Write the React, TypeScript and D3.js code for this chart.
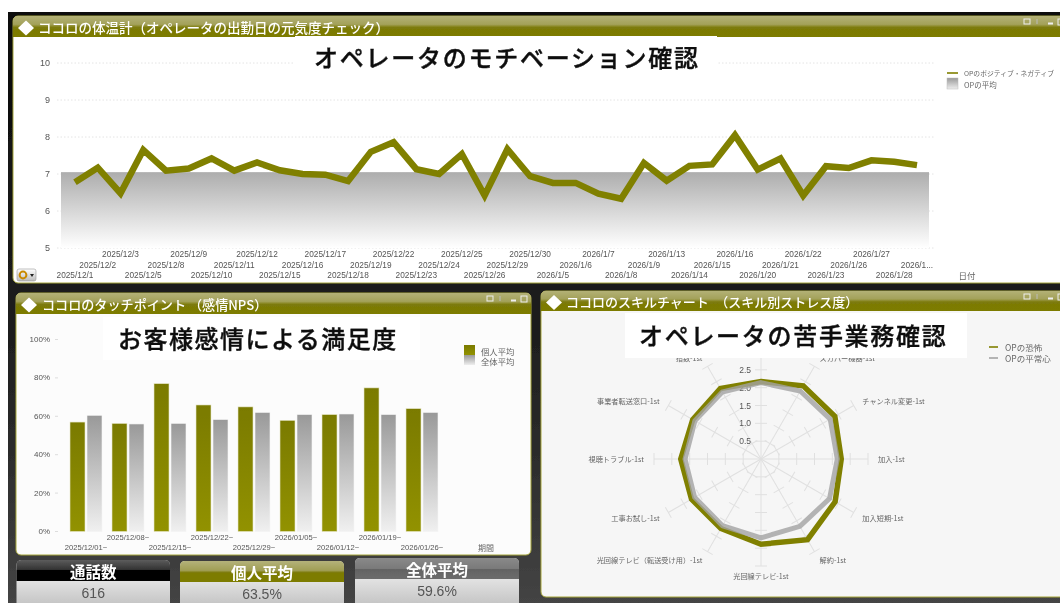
import React from "react";
import * as d3 from "d3";

const W = 1060, H = 603;
const OLIVE = "#808000";
const SANS = "'Liberation Sans','Noto Sans CJK JP',sans-serif";
const CJK = "'Noto Sans CJK JP','Liberation Sans',sans-serif";

// Top chart
const dates = ["2025/12/1","2025/12/2","2025/12/3","2025/12/5","2025/12/8","2025/12/9","2025/12/10","2025/12/11","2025/12/12","2025/12/15","2025/12/16","2025/12/17","2025/12/18","2025/12/19","2025/12/22","2025/12/23","2025/12/24","2025/12/25","2025/12/26","2025/12/29","2025/12/30","2026/1/5","2026/1/6","2026/1/7","2026/1/8","2026/1/9","2026/1/13","2026/1/14","2026/1/15","2026/1/16","2026/1/20","2026/1/21","2026/1/22","2026/1/23","2026/1/26","2026/1/27","2026/1/28","2026/1..."];
const mood = [6.78,7.17,6.48,7.65,7.09,7.15,7.42,7.09,7.31,7.1,7.0,6.98,6.81,7.6,7.86,7.13,7.0,7.54,6.42,7.67,6.94,6.76,6.76,6.47,6.33,7.3,6.82,7.22,7.26,8.05,7.12,7.42,6.42,7.21,7.16,7.37,7.33,7.24];
const moodAverage = 7.05;
const moodTicks = [5,6,7,8,9,10];

// Bar chart
const weeks = ["2025/12/01~","2025/12/08~","2025/12/15~","2025/12/22~","2025/12/29~","2026/01/05~","2026/01/12~","2026/01/19~","2026/01/26~"];
const personal = [57,56.3,77,65.9,64.9,57.9,60.9,74.8,64];
const overall = [60.5,56,56.3,58.3,62,60.9,61.2,60.9,62];
const pctTicks = [0,20,40,60,80,100];

// Radar
const skills = ["","スカパー機器-1st","チャンネル変更-1st","加入-1st","加入短期-1st","解約-1st","光回線テレビ-1st","光回線テレビ（転送受け用）-1st","工事お試し-1st","視聴トラブル-1st","事業者転送窓口-1st","指数-1st"];
const fear = [2.17,2.37,2.39,2.25,2.4,2.61,2.39,2.25,2.25,2.25,2.21,2.28];
const calm = [2.14,2.2,2.24,2.14,2.22,2.18,2.21,2.16,2.15,2.13,2.14,2.17];
const radarTicks = [0.5,1,1.5,2,2.5,3];

// KPI tiles
const kpiTitles = ["通話数","個人平均","全体平均"];
const kpiValues = ["616","63.5%","59.6%"];

function Grad({ id, stops, x2 = 0, y2 = 1 }: { id: string; stops: [number, string][]; x2?: number; y2?: number }) {
  return (
    <linearGradient id={id} x1="0" y1="0" x2={x2} y2={y2}>
      {stops.map(([o, c], i) => <stop key={i} offset={o} stopColor={c} />)}
    </linearGradient>
  );
}

function Panel({ x, y, w, h, head, fill, title, titleX, titleSize, iconX }: any) {
  const ty = y + head / 2 + 0.5;
  const dc = y + head / 2 + 1.5;
  return (
    <g>
      <rect x={x} y={y} width={w} height={h} rx={5} fill={fill} stroke="#a5a53a" strokeWidth={1} />
      <path d={`M${x},${y + head} V${y + 5} Q${x},${y} ${x + 5},${y} H${x + w - 5} Q${x + w},${y} ${x + w},${y + 5} V${y + head} Z`} fill="url(#headG)" />
      <path d={`M${x + 5},${dc} l8,-7.5 l8,7.5 l-8,7.5 Z`} fill="#fff" />
      <text x={titleX} y={ty} dominantBaseline="central" fontFamily={CJK} fontWeight={500} fontSize={titleSize} fill="#fff">{title}</text>
      <g fill="none" stroke="#eee" strokeWidth={1}>
        <rect x={iconX} y={y + 3} width={6} height={5} />
        <path d={`M${iconX + 13},${y + 3} v5`} stroke="#bbb" />
        <path d={`M${iconX + 24},${y + 7.5} h5`} strokeWidth={2} />
        <rect x={iconX + 34} y={y + 3} width={6} height={6} />
      </g>
    </g>
  );
}

function Overlay({ x, y, w, h, text, tx, ty, spacing }: any) {
  return (
    <g>
      <rect x={x} y={y} width={w} height={h} fill="#fff" />
      <text x={tx} y={ty} dominantBaseline="central" fontFamily={CJK} fontWeight={500} fontSize={24} letterSpacing={spacing} fill="#111" stroke="#111" strokeWidth={0.4}>{text}</text>
    </g>
  );
}

export default function App() {
  // Top line chart
  const xT = d3.scalePoint<string>().domain(dates).range([75, 917]);
  const yT = d3.scaleLinear().domain([5, 10]).range([248, 63]);
  const moodLine = d3.line<number>().x((_, i) => xT(dates[i])!).y(d => yT(d)).curve(d3.curveLinear);

  // Bars
  const xB = d3.scaleBand<string>().domain(weeks).range([65, 443]);
  const xS = d3.scaleBand<string>().domain(["p", "o"]).range([5, 37]).paddingInner(2 / 17);
  const yB = d3.scaleLinear().domain([0, 100]).range([531.5, 339.5]);

  // Radar
  const cx = 761, cy = 459;
  const rR = d3.scaleLinear().domain([0, 3]).range([0, 107]);
  const ang = d3.scalePoint<string>().domain(skills.map((_, i) => String(i))).range([0, (2 * Math.PI * 11) / 12]);
  const angleOf = (i: number) => ang(String(i))!;
  const radial = d3.lineRadial<number>().angle((_, i) => angleOf(i)).radius(d => rR(d)).curve(d3.curveLinearClosed);
  const labelR = 117;

  const tiles = [
    { x: 16.5, w: 153.5, y: 560, hy: 21, g: "url(#kpi0)" },
    { x: 180, w: 164, y: 561, hy: 21, g: "url(#kpi1)" },
    { x: 355, w: 164, y: 558, hy: 21, g: "url(#kpi2)" },
  ];

  return (
    <svg width={W} height={H} viewBox={`0 0 ${W} ${H}`} style={{ position: "absolute", left: 0, top: 0 }}>
      <defs>
        <Grad id="bgG" stops={[[0, "#0a0a0a"], [0.55, "#1e1e1e"], [0.75, "#2c2c2c"], [1, "#444"]]} />
        <Grad id="headG" stops={[[0, "#b3b176"], [0.4, "#a3a15a"], [0.55, "#7c7a08"], [1, "#7d7b00"]]} />
        <Grad id="areaG" stops={[[0, "#adadad"], [1, "#ffffff"]]} />
        <Grad id="oliveG" stops={[[0, "#7a7a00"], [1, "#929200"]]} />
        <Grad id="grayG" stops={[[0, "#999999"], [1, "#f0f0f0"]]} />
        <Grad id="legG" stops={[[0, "#999"], [1, "#eee"]]} />
        <Grad id="kpi0" stops={[[0, "#5c5c5c"], [0.45, "#333"], [0.5, "#000"], [1, "#000"]]} />
        <Grad id="kpi1" stops={[[0, "#b4b27a"], [0.45, "#a09e55"], [0.55, "#7d7b05"], [1, "#7d7b00"]]} />
        <Grad id="kpi2" stops={[[0, "#8a8a8a"], [0.5, "#7a7a7a"], [0.55, "#636363"], [1, "#6c6c6c"]]} />
        <Grad id="bodyG" stops={[[0, "#fbfbfb"], [1, "#bfbfbf"]]} />
        <Grad id="iconG" stops={[[0, "#fff"], [1, "#bbb"]]} />
        <filter id="soft" x="0" y="0" width="100%" height="100%">
          <feGaussianBlur stdDeviation="0.35" />
        </filter>
      </defs>
      <rect width={W} height={H} fill="#fff" />
      <g filter="url(#soft)">
        <rect x={8} y={12} width={W - 8} height={H - 12} fill="url(#bgG)" />

        {/* Top panel */}
        <Panel x={13} y={16} w={W} h={267} head={21} fill="#fff" title="ココロの体温計（オペレータの出勤日の元気度チェック）" titleX={38} titleSize={13.5} iconX={1024} />
        {moodTicks.map(t => (
          <g key={t}>
            <line x1={57} x2={935} y1={yT(t)} y2={yT(t)} stroke="#ddd" strokeWidth={0.8} strokeDasharray="1.5 2" />
            <text x={50} y={yT(t)} textAnchor="end" dominantBaseline="central" fontFamily={SANS} fontSize={9} fill="#555">{t}</text>
          </g>
        ))}
        <rect x={61} width={868} y={yT(moodAverage)} height={yT(5) - yT(moodAverage)} fill="url(#areaG)" />
        <path d={moodLine(mood)!} fill="none" stroke={OLIVE} strokeWidth={6.5} strokeLinejoin="miter" />
        {dates.map((d, i) => (
          <text key={d} x={xT(d)!} y={[275, 264.5, 254][i % 3]} textAnchor="middle" dominantBaseline="central" fontFamily={SANS} fontSize={8.3} fill="#555">{d}</text>
        ))}
        <text x={967} y={275} textAnchor="middle" dominantBaseline="central" fontFamily={CJK} fontSize={8.5} fill="#666">日付</text>
        <rect x={17} y={269} width={19} height={12} rx={2} fill="url(#iconG)" stroke="#999" strokeWidth={0.6} />
        <circle cx={23} cy={275} r={3.4} fill="none" stroke="#c98a00" strokeWidth={2} />
        <path d="M30,274 h4 l-2,3 Z" fill="#222" />
        <line x1={947} x2={958} y1={73} y2={73} stroke={OLIVE} strokeWidth={1.6} />
        <rect x={947} y={78} width={11} height={11} fill="url(#legG)" stroke="#bbb" strokeWidth={0.5} />
        <text x={964} y={73} dominantBaseline="central" fontFamily={CJK} fontSize={6.8} fill="#666">OPのポジティブ・ネガティブ</text>
        <text x={964} y={84} dominantBaseline="central" fontFamily={CJK} fontSize={7.5} fill="#666">OPの平均</text>
        <Overlay x={295} y={36} w={422} h={36} text="オペレータのモチベーション確認" tx={314} ty={56} spacing={1.75} />

        {/* Bar panel */}
        <Panel x={16} y={293} w={515} h={262} head={21} fill="#fcfcfc" title="ココロのタッチポイント （感情NPS）" titleX={42} titleSize={13.1} iconX={487} />
        {pctTicks.map(t => (
          <g key={t}>
            <line x1={55} x2={58} y1={yB(t)} y2={yB(t)} stroke="#ddd" />
            <text x={50} y={yB(t)} textAnchor="end" dominantBaseline="central" fontFamily={SANS} fontSize={8} fill="#555">{t}%</text>
          </g>
        ))}
        {weeks.map((w, i) => (
          <g key={w}>
            <rect x={xB(w)! + xS("p")!} y={yB(personal[i])} width={xS.bandwidth()} height={yB(0) - yB(personal[i])} fill="url(#oliveG)" stroke="#e6e6c8" strokeWidth={0.6} />
            <rect x={xB(w)! + xS("o")!} y={yB(overall[i])} width={xS.bandwidth()} height={yB(0) - yB(overall[i])} fill="url(#grayG)" stroke="#f3f3f3" strokeWidth={0.6} />
            <text x={xB(w)! + xB.bandwidth() / 2} y={i % 2 ? 537.5 : 547.5} textAnchor="middle" dominantBaseline="central" fontFamily={SANS} fontSize={7.6} fill="#555">{w}</text>
          </g>
        ))}
        <text x={486} y={547.5} textAnchor="middle" dominantBaseline="central" fontFamily={CJK} fontSize={8} fill="#666">期間</text>
        <rect x={464} y={345} width={11} height={10} fill="url(#oliveG)" />
        <rect x={464} y={355} width={11} height={10} fill="url(#legG)" />
        <text x={481} y={351} dominantBaseline="central" fontFamily={CJK} fontSize={8.4} fill="#666">個人平均</text>
        <text x={481} y={361} dominantBaseline="central" fontFamily={CJK} fontSize={8.4} fill="#666">全体平均</text>
        <Overlay x={103} y={317} w={317} h={43} text="お客様感情による満足度" tx={118} ty={337} spacing={1.5} />

        {/* Radar panel */}
        <Panel x={541} y={291} w={W} h={306} head={20} fill="#f6f6f6" title="ココロのスキルチャート　（スキル別ストレス度）" titleX={566} titleSize={13} iconX={1024} />
        <g transform={`translate(${cx},${cy})`}>
          {skills.map((_, i) => {
            const a = angleOf(i);
            return (
              <g key={i} transform={`rotate(${(a * 180) / Math.PI})`}>
                <line x1={0} x2={0} y1={0} y2={-rR(3)} stroke="#e0e0e0" />
                {radarTicks.map(t => (
                  <line key={t} x1={-6} x2={6} y1={-rR(t)} y2={-rR(t)} stroke="#e0e0e0" />
                ))}
              </g>
            );
          })}
          {radarTicks.slice(0, 5).map(t => (
            <text key={t} x={-10} y={-rR(t)} textAnchor="end" dominantBaseline="central" fontFamily={SANS} fontSize={8.5} fill="#555">{t.toFixed(1)}</text>
          ))}
          <path d={radial(fear)!} fill="none" stroke={OLIVE} strokeWidth={5.5} />
          <path d={radial(calm)!} fill="none" stroke="#a3a3a3" strokeOpacity={0.8} strokeWidth={5} />
          {skills.map((s, i) => {
            const a = angleOf(i);
            const px = labelR * Math.sin(a), py = -labelR * Math.cos(a);
            const anchor = Math.abs(px) < 1 ? "middle" : px > 0 ? "start" : "end";
            return <text key={i} x={px} y={py} textAnchor={anchor} dominantBaseline="central" fontFamily={CJK} fontSize={7.2} fill="#666">{s}</text>;
          })}
        </g>
        <line x1={989} x2={998} y1={347} y2={347} stroke={OLIVE} strokeWidth={1.6} />
        <line x1={989} x2={998} y1={358} y2={358} stroke="#999" strokeWidth={1.4} />
        <text x={1005} y={347} dominantBaseline="central" fontFamily={CJK} fontSize={8.5} fill="#666">OPの恐怖</text>
        <text x={1005} y={358} dominantBaseline="central" fontFamily={CJK} fontSize={8.5} fill="#666">OPの平常心</text>
        <Overlay x={625} y={313} w={342} h={45} text="オペレータの苦手業務確認" tx={639} ty={334} spacing={1.7} />

        {/* KPI tiles */}
        {kpiTitles.map((t, i) => {
          const k = tiles[i];
          const mid = k.x + k.w / 2;
          return (
            <g key={t}>
              <rect x={k.x} y={k.y} width={k.w} height={H - k.y + 6} rx={5} fill="url(#bodyG)" />
              <path d={`M${k.x},${k.y + k.hy} V${k.y + 5} Q${k.x},${k.y} ${k.x + 5},${k.y} H${k.x + k.w - 5} Q${k.x + k.w},${k.y} ${k.x + k.w},${k.y + 5} V${k.y + k.hy} Z`} fill={k.g} />
              <text x={mid} y={k.y + 10.5} textAnchor="middle" dominantBaseline="central" fontFamily={CJK} fontWeight={700} fontSize={15.5} fill="#fff">{t}</text>
              <text x={mid} y={k.y + 33} textAnchor="middle" dominantBaseline="central" fontFamily={SANS} fontSize={14} fill="#555">{kpiValues[i]}</text>
            </g>
          );
        })}
      </g>
    </svg>
  );
}
